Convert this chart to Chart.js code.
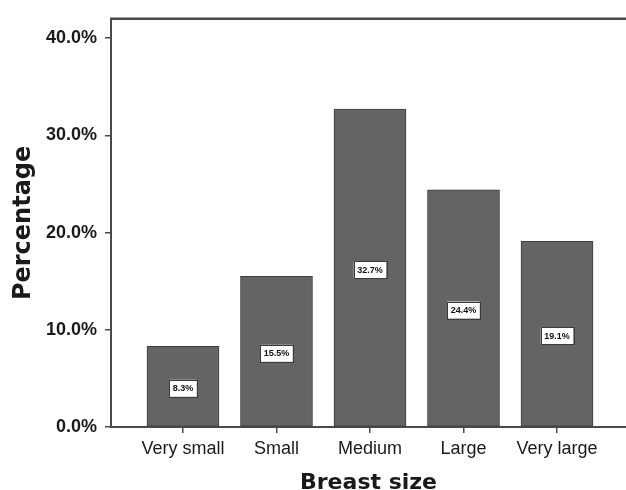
<!DOCTYPE html>
<html>
<head>
<meta charset="utf-8">
<script src="https://cdn.jsdelivr.net/npm/chart.js@4/dist/chart.umd.min.js"></script>
<style>
  html, body { margin: 0; padding: 0; background: #fff; overflow: hidden; }
  #wrap { width: 626px; height: 490px; }
</style>
</head>
<body>
<div id="wrap"><canvas id="barChart"></canvas></div>
<script>
// Data
const categories = ['Very small', 'Small', 'Medium', 'Large', 'Very large'];
const percentages = [8.3, 15.5, 32.7, 24.4, 19.1];
const yTicks = [0, 10, 20, 30, 40];

const axis_color = '#4a4a4a';
const text_color = '#1a1a1a';

// White boxed value labels in the middle of each bar
const valueBoxes = {
    id: 'valueBoxes',
    afterDatasetsDraw(chart) {
        const ctx = chart.ctx;
        const meta = chart.getDatasetMeta(0);
        ctx.save();
        ctx.font = 'bold 9px "Liberation Sans", Arial, sans-serif';
        ctx.textAlign = 'center';
        ctx.textBaseline = 'middle';
        meta.data.forEach((bar, i) => {
            const text = percentages[i].toFixed(1) + '%';
            const cy = (bar.y + bar.base) / 2 + 2;
            const w = ctx.measureText(text).width + 7;
            const h = 17;
            ctx.fillStyle = '#fff';
            ctx.fillRect(bar.x - w / 2, cy - h / 2, w, h);
            ctx.strokeStyle = '#3a3a3a';
            ctx.lineWidth = 1;
            ctx.strokeRect(Math.round(bar.x - w / 2) + 0.5, Math.round(cy - h / 2) + 0.5, Math.round(w), h);
            ctx.fillStyle = '#111';
            ctx.fillText(text, bar.x, cy + 0.5);
        });
        ctx.restore();
    }
};

// Top frame line of the plot area
const topFrame = {
    id: 'topFrame',
    afterDraw(chart) {
        const { ctx, chartArea } = chart;
        ctx.save();
        ctx.strokeStyle = axis_color;
        ctx.lineWidth = 2.5;
        ctx.beginPath();
        ctx.moveTo(chartArea.left - 1, chartArea.top);
        ctx.lineTo(chartArea.right, chartArea.top);
        ctx.stroke();
        ctx.restore();
    }
};

const data = {
    datasets: [{
        label: 'Percentage',
        data: percentages.map((v, i) => ({ x: i, y: v })),
        backgroundColor: '#646464',
        borderColor: '#3c3c3c',
        borderWidth: 1,
        borderSkipped: false,
        barThickness: 72
    }]
};

const config = {
    type: 'bar',
    data,
    options: {
        responsive: true,
        maintainAspectRatio: false,
        animation: false,
        layout: { padding: { top: 14, left: 0, right: 0, bottom: 0 } },
        plugins: {
            legend: { display: false },
            tooltip: { enabled: false }
        },
        scales: {
            x: {
                type: 'linear',
                offset: false,
                min: -0.77,
                max: 4.738,
                afterBuildTicks: scale => {
                    scale.ticks = categories.map((_, i) => ({ value: i }));
                },
                afterFit: scale => { scale.height = 63; },
                grid: {
                    offset: false,
                    drawOnChartArea: false,
                    tickLength: 6,
                    color: axis_color,
                    lineWidth: 1.5
                },
                border: { color: axis_color, width: 2 },
                ticks: {
                    color: text_color,
                    padding: 5,
                    maxRotation: 0,
                    autoSkip: false,
                    font: { family: 'Arial, "Liberation Sans", sans-serif', size: 18 },
                    callback: v => categories[v]
                },
                title: {
                    display: true,
                    text: 'Breast size',
                    color: text_color,
                    padding: { top: 0, bottom: -6 },
                    font: { family: '"DejaVu Sans", sans-serif', size: 22, weight: 'bold' }
                }
            },
            y: {
                min: 0,
                max: 42,
                afterBuildTicks: scale => {
                    scale.ticks = yTicks.map(v => ({ value: v }));
                },
                afterFit: scale => { scale.width = 111; },
                grid: {
                    drawOnChartArea: false,
                    tickLength: 6,
                    color: axis_color,
                    lineWidth: 1.5
                },
                border: { color: axis_color, width: 2 },
                ticks: {
                    color: text_color,
                    padding: 8,
                    font: { family: 'Arial, "Liberation Sans", sans-serif', size: 18, weight: 'bold' },
                    callback: v => v.toFixed(1) + '%'
                },
                title: {
                    display: true,
                    text: 'Percentage',
                    color: text_color,
                    padding: { top: 9, bottom: 0 },
                    font: { family: '"DejaVu Sans", sans-serif', size: 24, weight: 'bold' }
                }
            }
        }
    },
    plugins: [valueBoxes, topFrame]
};

const myChart = new Chart(document.getElementById('barChart'), config);
</script>
</body>
</html>
